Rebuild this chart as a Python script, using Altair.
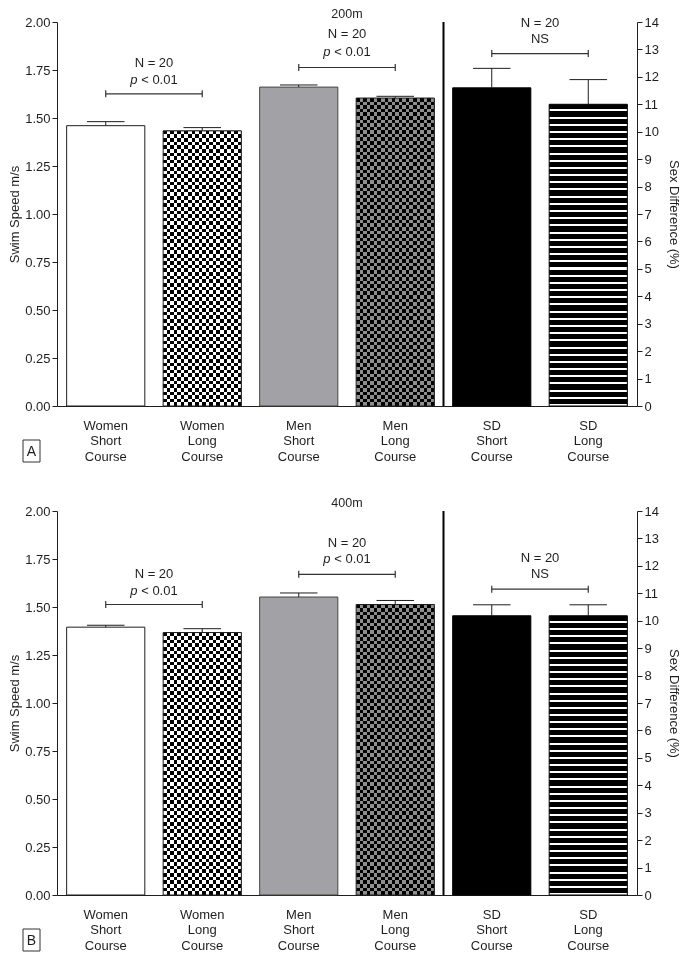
import altair as alt
import pandas as pd

# ---------------- data ----------------
categories = ["Women|Short|Course", "Women|Long|Course", "Men|Short|Course",
              "Men|Long|Course", "SD|Short|Course", "SD|Long|Course"]
speed_cats = categories[:4]
sd_cats = categories[4:]

panel_titles = ["200m", "400m"]
panel_tags = ["A", "B"]

speed_200 = [1.460, 1.433, 1.661, 1.604]
speed_200_top = [1.481, 1.450, 1.672, 1.613]
sd_200 = [11.60, 11.00]
sd_200_top = [12.31, 11.90]

speed_400 = [1.395, 1.367, 1.552, 1.513]
speed_400_top = [1.405, 1.387, 1.573, 1.534]
sd_400 = [10.18, 10.18]
sd_400_top = [10.58, 10.58]

pair_first = ["Women|Short|Course", "Men|Short|Course"]
pair_second = ["Women|Long|Course", "Men|Long|Course"]
bracket_200 = [1.626, 1.763]
n_text_200 = [1.789, 1.938]
p_text_200 = [1.698, 1.846]
sd_bracket_200, sd_n_200, sd_stat_200 = 12.85, 13.96, 13.39

bracket_400 = [1.513, 1.670]
n_text_400 = [1.670, 1.835]
p_text_400 = [1.581, 1.750]
sd_bracket_400, sd_n_400, sd_stat_400 = 11.15, 12.29, 11.72

n_label = "N = 20"
p_letter = "p"
p_rest = "< 0.01"
ns_label = "NS"

speed_ticks = [0, 0.25, 0.5, 0.75, 1.0, 1.25, 1.5, 1.75, 2.0]
sd_ticks = list(range(0, 15))

# ---------------- style / layout ----------------
FONT = "Liberation Sans"
FS = 13
INK = "#1e1e1e"
W, H = 580, 384
PI, PO = 0.19, 0.10
STEP = W / (len(categories) - PI + 2 * PO)
BW = STEP * (1 - PI)
HALF = STEP / 2
CELL = 3.6

xscale = alt.Scale(domain=categories, paddingInner=PI, paddingOuter=PO)
xaxis = alt.Axis(title=None, labelExpr="split(datum.label, '|')", labelFontSize=FS,
                 labelLineHeight=15.5, labelPadding=13, ticks=False, labelAngle=0,
                 domainColor=INK, labelColor=INK)
yl_scale = alt.Scale(domain=[0, 2], nice=False)
yr_scale = alt.Scale(domain=[0, 14], nice=False)
yl_axis = alt.Axis(title="Swim Speed m/s", values=speed_ticks, format=".2f", tickSize=5,
                   labelPadding=2, titlePadding=3, grid=False, labelFontSize=FS,
                   titleFontSize=FS)
yr_axis = alt.Axis(title="Sex Difference (%)", orient="right", values=sd_ticks, format="d",
                   tickSize=5, labelPadding=2, titlePadding=8, grid=False,
                   labelFontSize=FS, titleFontSize=FS)


def X(field, bp=0.5):
    return alt.X(f"{field}:N", scale=xscale, axis=xaxis, sort=categories, bandPosition=bp)


def YL(field):
    return alt.Y(f"{field}:Q", scale=yl_scale, axis=yl_axis)


def YR(field):
    return alt.Y(f"{field}:Q", scale=yr_scale, axis=yr_axis)


def bands(n, c1, c2, frac, along_y):
    stops = []
    for k in range(n):
        a = round(k / n, 6)
        b = round((k + frac) / n, 6)
        c = round(min(1.0, (k + 1) / n), 6)
        stops += [alt.GradientStop(color=c1, offset=a), alt.GradientStop(color=c1, offset=b),
                  alt.GradientStop(color=c2, offset=b), alt.GradientStop(color=c2, offset=c)]
    if along_y:
        return alt.LinearGradient(gradient="linear", stops=stops, x1=0, x2=0, y1=0, y2=1)
    return alt.LinearGradient(gradient="linear", stops=stops, x1=0, x2=1, y1=0, y2=0)


def checker(df, Y, value, ymax, light, dark):
    px_h = value / ymax * H
    nx = max(1, round(BW / (2 * CELL)))
    ny = max(1, round(px_h / (2 * CELL)))
    base = alt.Chart(df).mark_bar(fill=bands(nx, light, dark, 0.5, False)).encode(x=X("cat"), y=Y)
    over = alt.Chart(df).mark_bar(fill=bands(ny, light, "rgba(0,0,0,0)", 0.5, True),
                                  blend="difference").encode(x=X("cat"), y=Y)
    edge = alt.Chart(df).mark_bar(fillOpacity=0, stroke=INK, strokeWidth=1).encode(x=X("cat"), y=Y)
    return [base, over, edge]


def panel(title, tag, speed, speed_top, sd, sd_top, br, nt, pt, sd_b, sd_n, sd_s):
    sp = pd.DataFrame({"cat": speed_cats, "y": speed, "top": speed_top})
    sdd = pd.DataFrame({"cat": sd_cats, "y": sd, "top": sd_top})
    rows = [sp.iloc[[i]] for i in range(4)]
    srows = [sdd.iloc[[i]] for i in range(2)]

    left = [
        alt.Chart(rows[0]).mark_bar(fill="white", stroke=INK, strokeWidth=1).encode(x=X("cat"), y=YL("y")),
    ]
    left += checker(rows[1], YL("y"), speed[1], 2.0, "#ffffff", "#000000")
    left.append(alt.Chart(rows[2]).mark_bar(fill="#a2a2a6", stroke="#444444", strokeWidth=1)
                .encode(x=X("cat"), y=YL("y")))
    left += checker(rows[3], YL("y"), speed[3], 2.0, "#8e8e8e", "#000000")

    # error bars
    left.append(alt.Chart(sp).mark_rule(color=INK, strokeWidth=1)
                .encode(x=X("cat"), y=YL("y"), y2=alt.Y2("top")))
    left.append(alt.Chart(sp).mark_rule(color=INK, strokeWidth=1, xOffset=-BW * 0.24, x2Offset=BW * 0.24)
                .encode(x=X("cat"), x2=alt.X2("cat", bandPosition=0.5), y=YL("top")))

    # brackets and statistics
    bd = pd.DataFrame({"c1": pair_first, "c2": pair_second, "yb": br, "ny": nt, "py": pt,
                       "nt": [n_label] * 2, "pl": [p_letter] * 2, "pr": [p_rest] * 2})
    ends = pd.DataFrame({"cat": pair_first + pair_second, "yb": br + br})
    left.append(alt.Chart(bd).mark_rule(color="#333333", strokeWidth=1.2)
                .encode(x=X("c1"), x2=alt.X2("c2", bandPosition=0.5), y=YL("yb")))
    left.append(alt.Chart(ends).mark_rule(color="#333333", strokeWidth=1.2, yOffset=-3.5, y2Offset=3.5)
                .encode(x=X("cat"), y=YL("yb"), y2=alt.Y2("yb")))
    left.append(alt.Chart(bd).mark_text(fontSize=FS, color=INK, baseline="middle", xOffset=HALF)
                .encode(x=X("c1"), y=YL("ny"), text="nt:N"))
    left.append(alt.Chart(bd).mark_text(fontSize=FS, color=INK, baseline="middle", fontStyle="italic",
                                        align="right", dx=-16.4, xOffset=HALF)
                .encode(x=X("c1"), y=YL("py"), text="pl:N"))
    left.append(alt.Chart(bd).mark_text(fontSize=FS, color=INK, baseline="middle", align="left",
                                        dx=-12.8, xOffset=HALF)
                .encode(x=X("c1"), y=YL("py"), text="pr:N"))

    # divider, panel title and tag box
    div = pd.DataFrame({"cat": [sd_cats[0]]})
    left.append(alt.Chart(div).mark_rule(color="#000000", strokeWidth=2, xOffset=-PI * STEP / 2)
                .encode(x=X("cat", 0), y=alt.value(0), y2=alt.value(H)))
    tt = pd.DataFrame({"t": [title], "tag": [tag]})
    left.append(alt.Chart(tt).mark_text(fontSize=12.5, color=INK, baseline="middle")
                .encode(x=alt.value(W / 2), y=alt.value(-8), text="t:N"))
    left.append(alt.Chart(tt).mark_rect(fill="white", stroke="#333333", strokeWidth=1)
                .encode(x=alt.value(-34), x2=alt.value(-17), y=alt.value(H + 34), y2=alt.value(H + 56)))
    left.append(alt.Chart(tt).mark_text(fontSize=14, color=INK, baseline="middle")
                .encode(x=alt.value(-25.5), y=alt.value(H + 45.5), text="tag:N"))

    # right axis group (sex difference)
    px_h = sd[1] / 14 * H
    n_str = max(1, round(px_h / 7.2))
    right = [
        alt.Chart(srows[0]).mark_bar(fill="#000000", stroke="#000000", strokeWidth=1)
        .encode(x=X("cat"), y=YR("y")),
        alt.Chart(srows[1]).mark_bar(fill=bands(n_str, "#000000", "#ffffff", 0.72, True),
                                     stroke="#000000", strokeWidth=1)
        .encode(x=X("cat"), y=YR("y")),
        alt.Chart(sdd).mark_rule(color=INK, strokeWidth=1)
        .encode(x=X("cat"), y=YR("y"), y2=alt.Y2("top")),
        alt.Chart(sdd).mark_rule(color=INK, strokeWidth=1, xOffset=-BW * 0.24, x2Offset=BW * 0.24)
        .encode(x=X("cat"), x2=alt.X2("cat", bandPosition=0.5), y=YR("top")),
    ]
    sb = pd.DataFrame({"c1": [sd_cats[0]], "c2": [sd_cats[1]], "yb": [sd_b], "ny": [sd_n],
                       "sy": [sd_s], "nt": [n_label], "st": [ns_label]})
    send = pd.DataFrame({"cat": sd_cats, "yb": [sd_b, sd_b]})
    right += [
        alt.Chart(sb).mark_rule(color="#333333", strokeWidth=1.2)
        .encode(x=X("c1"), x2=alt.X2("c2", bandPosition=0.5), y=YR("yb")),
        alt.Chart(send).mark_rule(color="#333333", strokeWidth=1.2, yOffset=-3.5, y2Offset=3.5)
        .encode(x=X("cat"), y=YR("yb"), y2=alt.Y2("yb")),
        alt.Chart(sb).mark_text(fontSize=FS, color=INK, baseline="middle", xOffset=HALF)
        .encode(x=X("c1"), y=YR("ny"), text="nt:N"),
        alt.Chart(sb).mark_text(fontSize=FS, color=INK, baseline="middle", xOffset=HALF)
        .encode(x=X("c1"), y=YR("sy"), text="st:N"),
    ]
    return alt.layer(alt.layer(*left), alt.layer(*right)).resolve_scale(y="independent").properties(
        width=W, height=H)


top = panel(panel_titles[0], panel_tags[0], speed_200, speed_200_top, sd_200, sd_200_top,
            bracket_200, n_text_200, p_text_200, sd_bracket_200, sd_n_200, sd_stat_200)
bottom = panel(panel_titles[1], panel_tags[1], speed_400, speed_400_top, sd_400, sd_400_top,
               bracket_400, n_text_400, p_text_400, sd_bracket_400, sd_n_400, sd_stat_400)

chart = alt.vconcat(top, bottom, spacing=34).properties(
    padding={"left": 0, "top": 0, "right": 5, "bottom": 0}
).configure_view(stroke=None).configure_axis(
    labelFont=FONT, titleFont=FONT, domainColor=INK, tickColor=INK, labelColor=INK,
    titleColor=INK, titleFontWeight="normal"
).configure_text(font=FONT)

chart.save("out.html", embed_options={"renderer": "svg", "actions": False})
